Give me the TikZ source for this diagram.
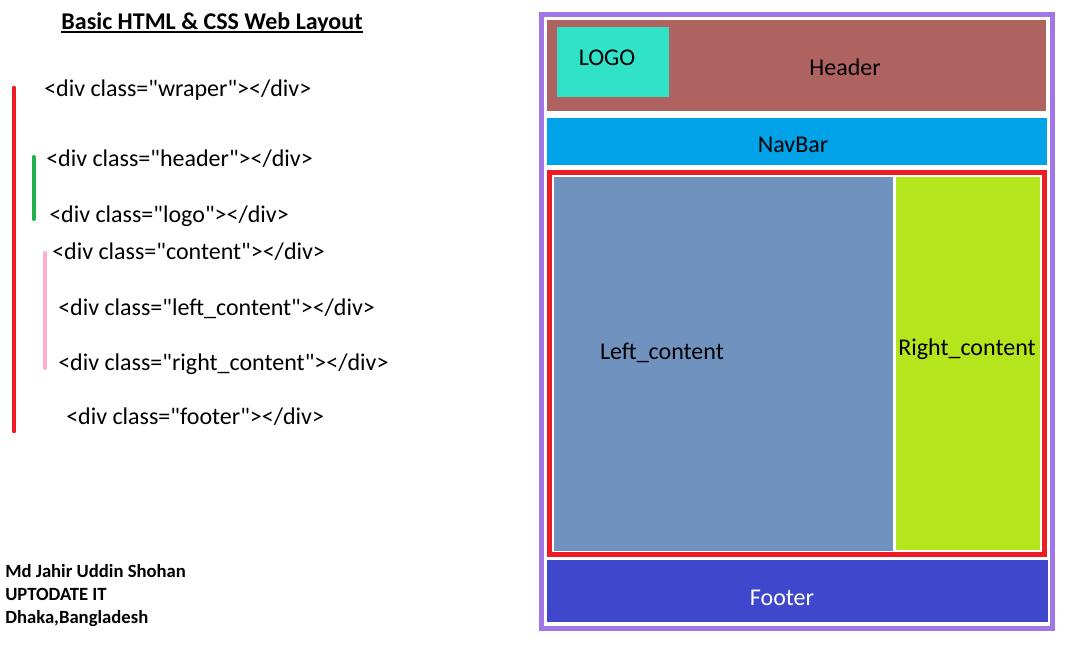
\documentclass[tikz,border=0pt]{standalone}
\usepackage{fontspec}
\setmainfont{Carlito}[Ligatures=TeXOff]
\definecolor{wrapC}{RGB}{160,118,232}
\definecolor{headC}{RGB}{175,99,97}
\definecolor{logoC}{RGB}{48,226,200}
\definecolor{navC}{RGB}{0,162,232}
\definecolor{redC}{RGB}{237,28,36}
\definecolor{leftC}{RGB}{112,146,190}
\definecolor{rightC}{RGB}{181,230,29}
\definecolor{footC}{RGB}{63,72,204}
\definecolor{greenC}{RGB}{34,177,76}
\definecolor{pinkC}{RGB}{255,174,201}
\begin{document}
\begin{tikzpicture}[x=0.75pt,y=-0.75pt,
  txt/.style={inner sep=0pt, text height=1.06em, text depth=0pt, font=\fontsize{18}{22}\selectfont},
  code/.style={txt, anchor=west},
  credit/.style={inner sep=0pt, text height=0.85em, text depth=0pt, anchor=west, font=\fontsize{14}{17}\selectfont\bfseries},
  bar/.style={line width=3.5pt, line cap=round}]
\useasboundingbox[fill=white] (0,0) rectangle (1083,653);

% title
\node[txt, font=\fontsize{18}{22}\selectfont\bfseries] (title) at (212,22) {Basic HTML \& CSS Web Layout};
\draw[line width=1.4pt] ([yshift=-2.4pt]title.base west) -- ([yshift=-2.4pt]title.base east);

% code lines
\node[code] (cwrap) at (44,89) {<div class="wraper"></div>};
\node[code] (chead) at (46,159) {<div class="header"></div>};
\node[code] (clogo) at (49,215) {<div class="logo"></div>};
\node[code] (ccont) at (52,252) {<div class="content"></div>};
\node[code] (cleft) at (58,308) {<div class="left\_content"></div>};
\node[code] (cright) at (58,363) {<div class="right\_content"></div>};
\node[code] (cfoot) at (66,417) {<div class="footer"></div>};

% bars
\coordinate (rbT) at (14,88);
\coordinate (rbB) at (14,431);
\draw[bar, redC] (rbT) -- (rbB);
\coordinate (gbT) at (33.5,157);
\coordinate (gbB) at (33.5,219);
\draw[bar, greenC, line width=3pt] (gbT) -- (gbB);
\coordinate (pbT) at (45,253);
\coordinate (pbB) at (45,368);
\draw[bar, pinkC, line width=3pt] (pbT) -- (pbB);

% credits
\node[credit] (cr1) at (5,572) {Md Jahir Uddin Shohan};
\node[credit] (cr2) at (5,595) {UPTODATE IT};
\node[credit] (cr3) at (5,618) {Dhaka,Bangladesh};

% layout
\draw[wrapC, line width=3.5pt] (541.5,14.3) rectangle (1052.5,628.3);
\fill[headC] (547,20) rectangle (1046,111);
\fill[logoC] (557,27) rectangle (669,97);
\fill[navC] (547,118) rectangle (1047,165);
\draw[redC, line width=3.75pt] (549.5,172.5) rectangle (1044.5,554.5);
\fill[leftC] (554,177) rectangle (893,551);
\fill[rightC] (896,177) rectangle (1040,550);
\fill[footC] (547,560) rectangle (1048,622);

\node[txt] (logo) at (607,58) {LOGO};
\node[txt] (header) at (845,68) {Header};
\node[txt] (nav) at (793,145) {NavBar};
\node[txt] (left) at (662,352) {Left\_content};
\node[txt] (right) at (967,348) {Right\_content};
\node[txt, text=white] (footer) at (782,598) {Footer};
\end{tikzpicture}
\end{document}
